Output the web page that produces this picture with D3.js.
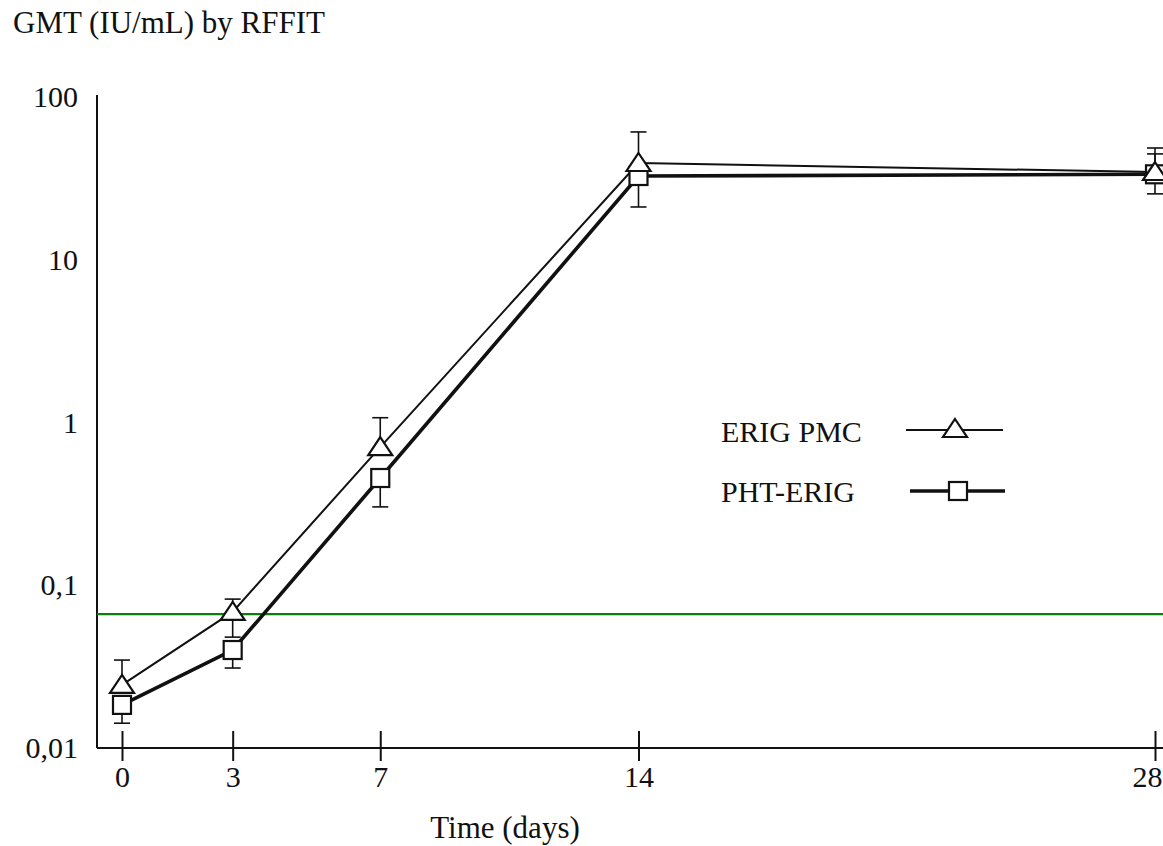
<!DOCTYPE html>
<html><head><meta charset="utf-8">
<script src="https://cdn.jsdelivr.net/npm/d3@7"></script>
<style>body{margin:0;background:#fff}svg{display:block}text{font-family:"Liberation Serif","Times New Roman",serif;fill:#111}</style>
</head><body><svg id="c" width="1163" height="846"></svg>
<script>
const days = [0, 3, 7, 14, 28];
const yTicks = [0.01, 0.1, 1, 10, 100];
const yTickLabels = ["0,01", "0,1", "1", "10", "100"];
const erigPmc = [0.0244, 0.0686, 0.706, 39.3, 34.6];
const erigPmcUpper = [0.0347, 0.0822, 1.07, 61, 48.6];
const erigPmcLower = [null, 0.048, null, null, null];
const phtErig = [0.0184, 0.040, 0.456, 32.7, 33.5];
const phtErigUpper = [null, null, null, null, 44.7];
const phtErigLower = [0.0142, 0.031, 0.303, 21.1, 25.4];
const threshold = 0.0665;
const seriesNames = ["ERIG PMC", "PHT-ERIG"];

const FS = 30;
const svg = d3.select("#c");
const x = d3.scaleLinear().domain([0, 28]).range([122, 1155]);
const y = d3.scaleLog().domain([0.01, 100]).range([748, 97]);
const axisX0 = 97, axisRight = 1163;

// title
svg.append("text").attr("x", 13).attr("y", 33).attr("font-size", 31).text("GMT (IU/mL) by RFFIT");

// y axis
const ya = svg.append("g").attr("transform", `translate(${axisX0},0)`)
  .call(d3.axisLeft(y).tickValues(yTicks).tickSize(0).tickPadding(19)
    .tickFormat(d => yTickLabels[yTicks.indexOf(d)]));
ya.select(".domain").attr("d", `M0,95V${y(0.01)}`).attr("stroke", "#111").attr("stroke-width", 2);
ya.selectAll("text").attr("font-size", FS).attr("fill", "#111").attr("font-family", "Liberation Serif");

// x axis
const xa = svg.append("g").attr("transform", `translate(0,${y(0.01)})`)
  .call(d3.axisBottom(x).tickValues(days).tickSize(13).tickPadding(5).tickFormat(d => d));
xa.select(".domain").attr("d", `M${axisX0},0H${axisRight}`).attr("stroke", "#111").attr("stroke-width", 2);
xa.selectAll(".tick line").attr("y1", -17).attr("y2", 13).attr("stroke", "#111").attr("stroke-width", 2);
xa.selectAll("text").attr("font-size", FS).attr("fill", "#111").attr("font-family", "Liberation Serif");
xa.selectAll(".tick").filter(d => d === 28).select("text").attr("text-anchor", "end").attr("x", 1162 - x(28));
svg.append("text").attr("x", 505).attr("y", 838).attr("text-anchor", "middle").attr("font-size", 31).text("Time (days)");

// threshold line
svg.append("line").attr("x1", axisX0).attr("x2", axisRight).attr("y1", y(threshold)).attr("y2", y(threshold))
  .attr("stroke", "#078107").attr("stroke-width", 2.2);

const line = d3.line().x((d, i) => x(days[i])).y(d => y(d));

function errorBars(vals, ends) {
  ends.forEach((e, i) => {
    if (e == null) return;
    svg.append("line").attr("x1", x(days[i])).attr("x2", x(days[i])).attr("y1", y(vals[i])).attr("y2", y(e))
      .attr("stroke", "#111").attr("stroke-width", 1.6);
    svg.append("line").attr("x1", x(days[i]) - 8).attr("x2", x(days[i]) + 8).attr("y1", y(e)).attr("y2", y(e))
      .attr("stroke", "#111").attr("stroke-width", 1.6);
  });
}
errorBars(erigPmc, erigPmcUpper);
errorBars(erigPmc, erigPmcLower);
errorBars(phtErig, phtErigUpper);
errorBars(phtErig, phtErigLower);

svg.append("path").datum(erigPmc).attr("d", line).attr("fill", "none").attr("stroke", "#111").attr("stroke-width", 2);
svg.append("path").datum(phtErig).attr("d", line).attr("fill", "none").attr("stroke", "#111").attr("stroke-width", 3.6);

function triangle(g, cx, cy) {
  g.append("path").attr("d", "M0,-10L12,8L-12,8Z").attr("transform", `translate(${cx},${cy})`)
    .attr("fill", "#fff").attr("stroke", "#111").attr("stroke-width", 2.2);
}
function square(g, cx, cy) {
  g.append("rect").attr("x", cx - 9).attr("y", cy - 9).attr("width", 18).attr("height", 18)
    .attr("fill", "#fff").attr("stroke", "#111").attr("stroke-width", 2.2);
}
phtErig.forEach((v, i) => square(svg, x(days[i]), y(v)));
erigPmc.forEach((v, i) => triangle(svg, x(days[i]), y(v)));

// legend
const lg = svg.append("g");
lg.append("text").attr("x", 721).attr("y", 442).attr("font-size", FS).text(seriesNames[0]);
lg.append("line").attr("x1", 906).attr("x2", 1003).attr("y1", 430).attr("y2", 430).attr("stroke", "#111").attr("stroke-width", 2);
triangle(lg, 955, 429);
lg.append("text").attr("x", 721).attr("y", 502).attr("font-size", FS).text(seriesNames[1]);
lg.append("line").attr("x1", 910).attr("x2", 1005).attr("y1", 491).attr("y2", 491).attr("stroke", "#111").attr("stroke-width", 3.6);
square(lg, 958, 491);
</script></body></html>
